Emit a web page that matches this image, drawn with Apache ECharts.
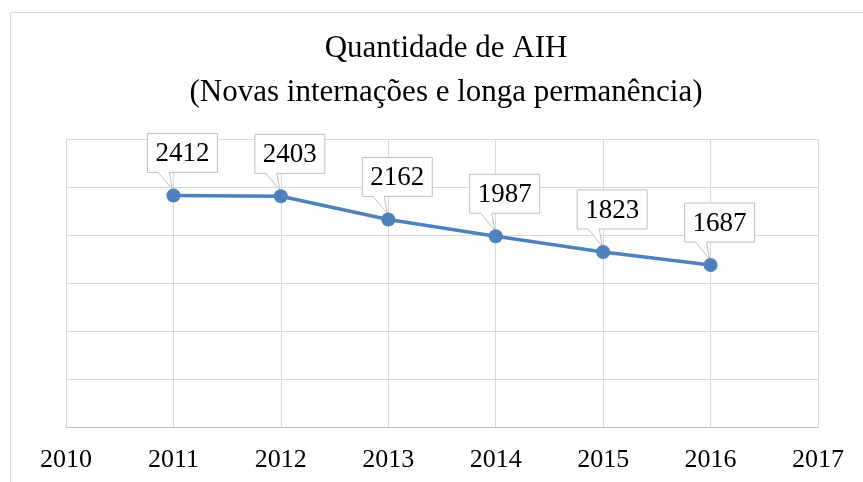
<!DOCTYPE html>
<html>
<head>
<meta charset="utf-8">
<script src="https://cdn.jsdelivr.net/npm/echarts@6/dist/echarts.min.js"></script>
<style>
html,body{margin:0;padding:0;background:#fff;}
#chart{width:863px;height:482px;}
</style>
</head>
<body>
<div id="chart"></div>
<script>
const titleLines = ['Quantidade de AIH', '(Novas internações e longa permanência)'];
const years = [2011, 2012, 2013, 2014, 2015, 2016];
const values = [2412, 2403, 2162, 1987, 1823, 1687];
const xMin = 2010, xMax = 2017, xStep = 1;
const yMin = 0, yMax = 3000, yStep = 500;

const pts = years.map((y, i) => [y, values[i]]);
const FONT = '"Liberation Serif", "Times New Roman", serif';

const chart = echarts.init(document.getElementById('chart'), null, {renderer: 'canvas'});
chart.setOption({
  animation: false,
  backgroundColor: '#fff',
  title: {
    text: titleLines.join('\n'),
    left: 441,
    textAlign: 'center',
    top: 22,
    textStyle: {fontFamily: FONT, fontSize: 31, fontWeight: 'normal', color: '#000', lineHeight: 44}
  },
  graphic: [{
    type: 'rect',
    shape: {x: 10.5, y: 12.5, width: 900, height: 500},
    style: {fill: 'none', stroke: '#d9d9d9', lineWidth: 1},
    silent: true, z: -1
  }],
  grid: {left: 66, right: 45, top: 139, bottom: 55},
  xAxis: {
    type: 'value', min: xMin, max: xMax, interval: xStep,
    axisLine: {show: true, lineStyle: {color: '#bfbfbf', width: 1}},
    axisTick: {show: false},
    axisLabel: {fontFamily: FONT, fontSize: 26, color: '#000', margin: 20, formatter: v => String(v)},
    splitLine: {show: true, lineStyle: {color: '#d9d9d9', width: 1}}
  },
  yAxis: {
    type: 'value', min: yMin, max: yMax, interval: yStep,
    axisLine: {show: false}, axisTick: {show: false},
    axisLabel: {show: false},
    splitLine: {show: true, lineStyle: {color: '#d9d9d9', width: 1}}
  },
  series: [{
    type: 'line',
    data: pts,
    symbol: 'circle', symbolSize: 14,
    lineStyle: {color: '#4f81bd', width: 3.5},
    itemStyle: {color: '#4f81bd'},
    z: 5
  }, {
    type: 'custom',
    data: pts,
    z: 3,
    renderItem: function (params, api) {
      const p = api.coord([api.value(0), api.value(1)]);
      const px = p[0], py = p[1];
      const L = px - 26, R = px + 44, T = py - 62, B = py - 23;
      return {
        type: 'group',
        children: [{
          type: 'polygon',
          shape: {points: [[L, T], [R, T], [R, B], [px - 4, B], [px - 1, py - 6], [px - 15, B], [L, B]]},
          style: {fill: '#fff', stroke: '#bfbfbf', lineWidth: 1}
        }, {
          type: 'text',
          style: {
            x: (L + R) / 2, y: (T + B) / 2 + 1,
            text: String(api.value(1)),
            font: '27px ' + FONT,
            fill: '#000', align: 'center', verticalAlign: 'middle'
          }
        }]
      };
    }
  }]
});
</script>
</body>
</html>
